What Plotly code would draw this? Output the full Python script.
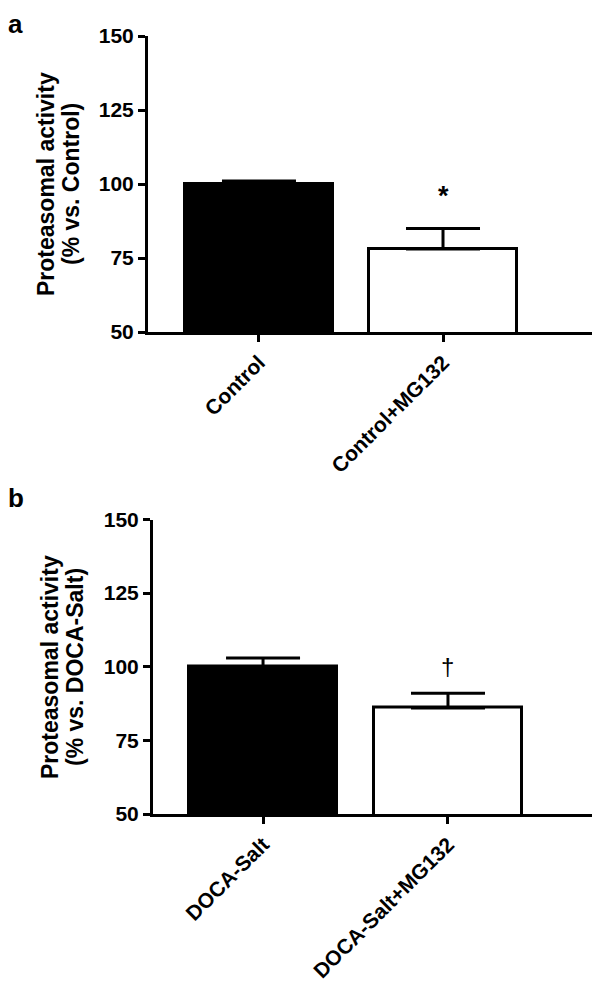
import plotly.graph_objects as go

# panel a
groups_a = ['Control', 'Control+MG132']
mean_a = [100, 78]
sem_a = [1, 7]

# panel b
groups_b = ['DOCA-Salt', 'DOCA-Salt+MG132']
mean_b = [100, 86]
sem_b = [3, 5]

yticks = [50, 75, 100, 125, 150]
fills = ['black', 'white']

FONT = 'Liberation Sans, Arial, sans-serif'
W, H = 600, 993
OFF = 8  # page body margin, positions below are in screen pixels


def px_x(p):
    return (p - OFF) / W


def px_y(p):
    return 1 - (p - OFF) / H


fig = go.Figure()


def add_panel(fig, means, sems, xa, ya):
    fig.add_trace(go.Bar(
        x=[0, 1], y=means, width=0.8,
        marker=dict(color=fills, line=dict(color='black', width=3)),
        error_y=dict(type='data', symmetric=False, array=sems,
                     arrayminus=[0, 0], color='black', thickness=3, width=37),
        xaxis=xa, yaxis=ya, showlegend=False,
    ))


add_panel(fig, mean_a, sem_a, 'x', 'y')
add_panel(fig, mean_b, sem_b, 'x2', 'y2')

axis_common = dict(showline=True, linecolor='black', linewidth=3,
                   ticks='outside', ticklen=7, tickwidth=3, tickcolor='black',
                   showgrid=False, zeroline=False, automargin=False,
                   tickfont=dict(family=FONT, size=21, color='black', weight='bold'))

fig.update_layout(
    width=W, height=H,
    margin=dict(l=0, r=0, t=0, b=0, pad=0),
    plot_bgcolor='white', paper_bgcolor='white',
    bargap=0,
    xaxis=dict(domain=[px_x(148), px_x(600)], range=[-0.603, 1.853],
               tickvals=[0, 1], ticktext=groups_a, tickangle=-45,
               anchor='y', **axis_common),
    yaxis=dict(domain=[px_y(332), px_y(36)], range=[50, 150], tickvals=yticks,
               anchor='x', **axis_common),
    xaxis2=dict(domain=[px_x(153), px_x(600)], range=[-0.595, 1.822],
                tickvals=[0, 1], ticktext=groups_b, tickangle=-45,
                anchor='y2', **axis_common),
    yaxis2=dict(domain=[px_y(814), px_y(519.5)], range=[50, 150], tickvals=yticks,
                anchor='x2', **axis_common),
)

title_font = dict(family=FONT, size=23, color='black', weight='bold')

# y titles, one annotation per line
titles = [
    (['Proteasomal activity', '(% vs. Control)'], [46, 71], 184),
    (['Proteasomal activity', '(% vs. DOCA-Salt)'], [50, 75], 667),
]
for lines, xs, yc in titles:
    for txt, xp in zip(lines, xs):
        fig.add_annotation(xref='paper', yref='paper', x=px_x(xp), y=px_y(yc),
                           text=txt, textangle=-90, showarrow=False, font=title_font,
                           xanchor='center', yanchor='middle')

# panel letters
for letter, ytop in [('a', 8), ('b', 482)]:
    fig.add_annotation(xref='paper', yref='paper', x=px_x(7), y=px_y(ytop),
                       text=letter, showarrow=False, xanchor='left', yanchor='top',
                       borderpad=0,
                       font=dict(family=FONT, size=26, color='black', weight='bold'))

# significance marks
fig.add_annotation(xref='x', yref='y', x=1, y=mean_a[1] + sem_a[1], yshift=32,
                   text='*', showarrow=False, yanchor='middle',
                   font=dict(family=FONT, size=27, color='black', weight='bold'))
fig.add_annotation(xref='x2', yref='y2', x=1, y=mean_b[1] + sem_b[1], yshift=27,
                   text='†', showarrow=False, yanchor='middle',
                   font=dict(family=FONT, size=24, color='black'))

fig.write_html("out.html")
